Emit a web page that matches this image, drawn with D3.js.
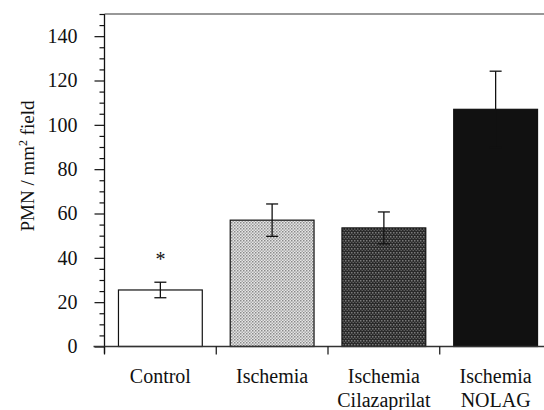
<!DOCTYPE html>
<html>
<head>
<meta charset="utf-8">
<script src="https://cdn.jsdelivr.net/npm/d3@7"></script>
<style>
  body { margin: 0; background: #fff; }
  svg text { font-family: "Liberation Serif", "Times New Roman", serif; fill: #111; }
</style>
</head>
<body>
<div id="chart"></div>
<script>
let groups = ["Control", "Ischemia", "Ischemia Cilazaprilat", "Ischemia NOLAG"];
let labelLines = [["Control"], ["Ischemia"], ["Ischemia", "Cilazaprilat"], ["Ischemia", "NOLAG"]];
let means = [25.5, 57, 53.5, 107];
let errors = [3.5, 7.3, 7.2, 17.2];
let yTicks = [0, 20, 40, 60, 80, 100, 120, 140];

let width = 544, height = 410;
let x0 = 104.5, y0 = 346.5, yTop = 14;
let serif = '"Liberation Serif", "Times New Roman", serif';

let svg = d3.select("#chart").append("svg")
  .attr("width", width)
  .attr("height", height);

// fill patterns
let defs = svg.append("defs");
let light = defs.append("pattern").attr("id", "light")
  .attr("width", 3).attr("height", 3).attr("patternUnits", "userSpaceOnUse");
light.append("rect").attr("width", 3).attr("height", 3).attr("fill", "#e6e6e6");
light.append("rect").attr("width", 1.5).attr("height", 1.5).attr("fill", "#8a8a8a");
light.append("rect").attr("x", 1.5).attr("y", 1.5).attr("width", 1.5).attr("height", 1.5).attr("fill", "#a8a8a8");

let dark = defs.append("pattern").attr("id", "dark")
  .attr("width", 3).attr("height", 4).attr("patternUnits", "userSpaceOnUse");
dark.append("rect").attr("width", 3).attr("height", 4).attr("fill", "#2a2a2a");
dark.append("rect").attr("width", 1.5).attr("height", 1.5).attr("fill", "#7a7a7a");
dark.append("rect").attr("x", 1.5).attr("y", 2).attr("width", 1.5).attr("height", 1).attr("fill", "#606060");

let fills = ["#fff", "url(#light)", "url(#dark)", "#111"];

let x = d3.scaleBand()
  .domain(groups)
  .range([x0, x0 + 4 * 111.75])
  .paddingInner(0.25)
  .paddingOuter(0.125);

let y = d3.scaleLinear()
  .domain([0, 150])
  .range([y0, yTop]);

// bars
svg.selectAll("rect.bar")
  .data(groups)
  .enter()
  .append("rect")
  .attr("class", "bar")
  .attr("x", d => x(d))
  .attr("width", x.bandwidth())
  .attr("y", (d, i) => y(means[i]))
  .attr("height", (d, i) => y0 - y(means[i]))
  .attr("fill", (d, i) => fills[i])
  .attr("stroke", "#111")
  .attr("stroke-width", 1.2);

// error bars
let eb = svg.selectAll("g.err")
  .data(groups)
  .enter()
  .append("g")
  .attr("class", "err")
  .attr("stroke", "#111")
  .attr("stroke-width", 1.3);
eb.append("line")
  .attr("x1", d => x(d) + x.bandwidth() / 2)
  .attr("x2", d => x(d) + x.bandwidth() / 2)
  .attr("y1", (d, i) => y(means[i] - errors[i]))
  .attr("y2", (d, i) => y(means[i] + errors[i]));
eb.append("line")
  .attr("x1", d => x(d) + x.bandwidth() / 2 - 6)
  .attr("x2", d => x(d) + x.bandwidth() / 2 + 6)
  .attr("y1", (d, i) => y(means[i] + errors[i]))
  .attr("y2", (d, i) => y(means[i] + errors[i]));
eb.append("line")
  .attr("x1", d => x(d) + x.bandwidth() / 2 - 6)
  .attr("x2", d => x(d) + x.bandwidth() / 2 + 6)
  .attr("y1", (d, i) => y(means[i] - errors[i]))
  .attr("y2", (d, i) => y(means[i] - errors[i]));

// significance marker
svg.append("text")
  .attr("x", x("Control") + x.bandwidth() / 2)
  .attr("y", y(means[0] + errors[0]))
  .attr("dy", -16)
  .attr("text-anchor", "middle")
  .style("font-family", serif)
  .style("font-size", "20px")
  .text("*");

// y axis: minor ticks every 5, major every 20
let yAxisMinor = d3.axisLeft(y)
  .tickValues(d3.range(0, 151, 5).filter(v => v % 20 !== 0))
  .tickSize(5)
  .tickFormat("");
svg.append("g")
  .attr("transform", `translate(${x0},0)`)
  .call(yAxisMinor)
  .call(g => g.select(".domain").remove())
  .selectAll("line").attr("stroke", "#111").attr("stroke-width", 1.2);

let yAxis = d3.axisLeft(y)
  .tickValues(yTicks)
  .tickSize(10)
  .tickPadding(17);
let ya = svg.append("g")
  .attr("transform", `translate(${x0},0)`)
  .call(yAxis);
ya.select(".domain").remove();
ya.selectAll("line").attr("stroke", "#111").attr("stroke-width", 1.2);
ya.selectAll("text")
  .style("font-family", serif)
  .style("font-size", "20px")
  .attr("fill", "#111");

// axis lines and top frame
svg.append("line")
  .attr("x1", x0).attr("x2", x0)
  .attr("y1", yTop).attr("y2", y0 + 7)
  .attr("stroke", "#111").attr("stroke-width", 1.3);
svg.append("line")
  .attr("x1", x0).attr("x2", width)
  .attr("y1", yTop).attr("y2", yTop)
  .attr("stroke", "#333").attr("stroke-width", 1.2);
svg.append("line")
  .attr("x1", x0 - 11).attr("x2", width)
  .attr("y1", y0).attr("y2", y0)
  .attr("stroke", "#333").attr("stroke-width", 1.3);

// x ticks at group boundaries
let step = x.step();
svg.selectAll("line.xt")
  .data(groups)
  .enter()
  .append("line")
  .attr("class", "xt")
  .attr("x1", (d, i) => x0 + i * step)
  .attr("x2", (d, i) => x0 + i * step)
  .attr("y1", y0)
  .attr("y2", y0 + 8)
  .attr("stroke", "#111")
  .attr("stroke-width", 1.2);

// category labels
let lab = svg.selectAll("text.cat")
  .data(groups)
  .enter()
  .append("text")
  .attr("class", "cat")
  .attr("text-anchor", "middle")
  .style("font-family", serif)
  .style("font-size", "20px")
  .attr("transform", d => `translate(${x(d) + x.bandwidth() / 2},383)`);
lab.selectAll("tspan")
  .data((d, i) => labelLines[i])
  .enter()
  .append("tspan")
  .attr("x", 0)
  .attr("y", (d, j) => j * 24)
  .text(d => d);

// y label
let yl = svg.append("text")
  .attr("transform", "translate(34,166) rotate(-90)")
  .attr("text-anchor", "middle")
  .style("font-family", serif)
  .style("font-size", "19px");
yl.append("tspan").text("PMN / mm");
yl.append("tspan").style("font-size", "12px").attr("dy", -7).text("2");
yl.append("tspan").attr("dy", 7).text(" field");
</script>
</body>
</html>
